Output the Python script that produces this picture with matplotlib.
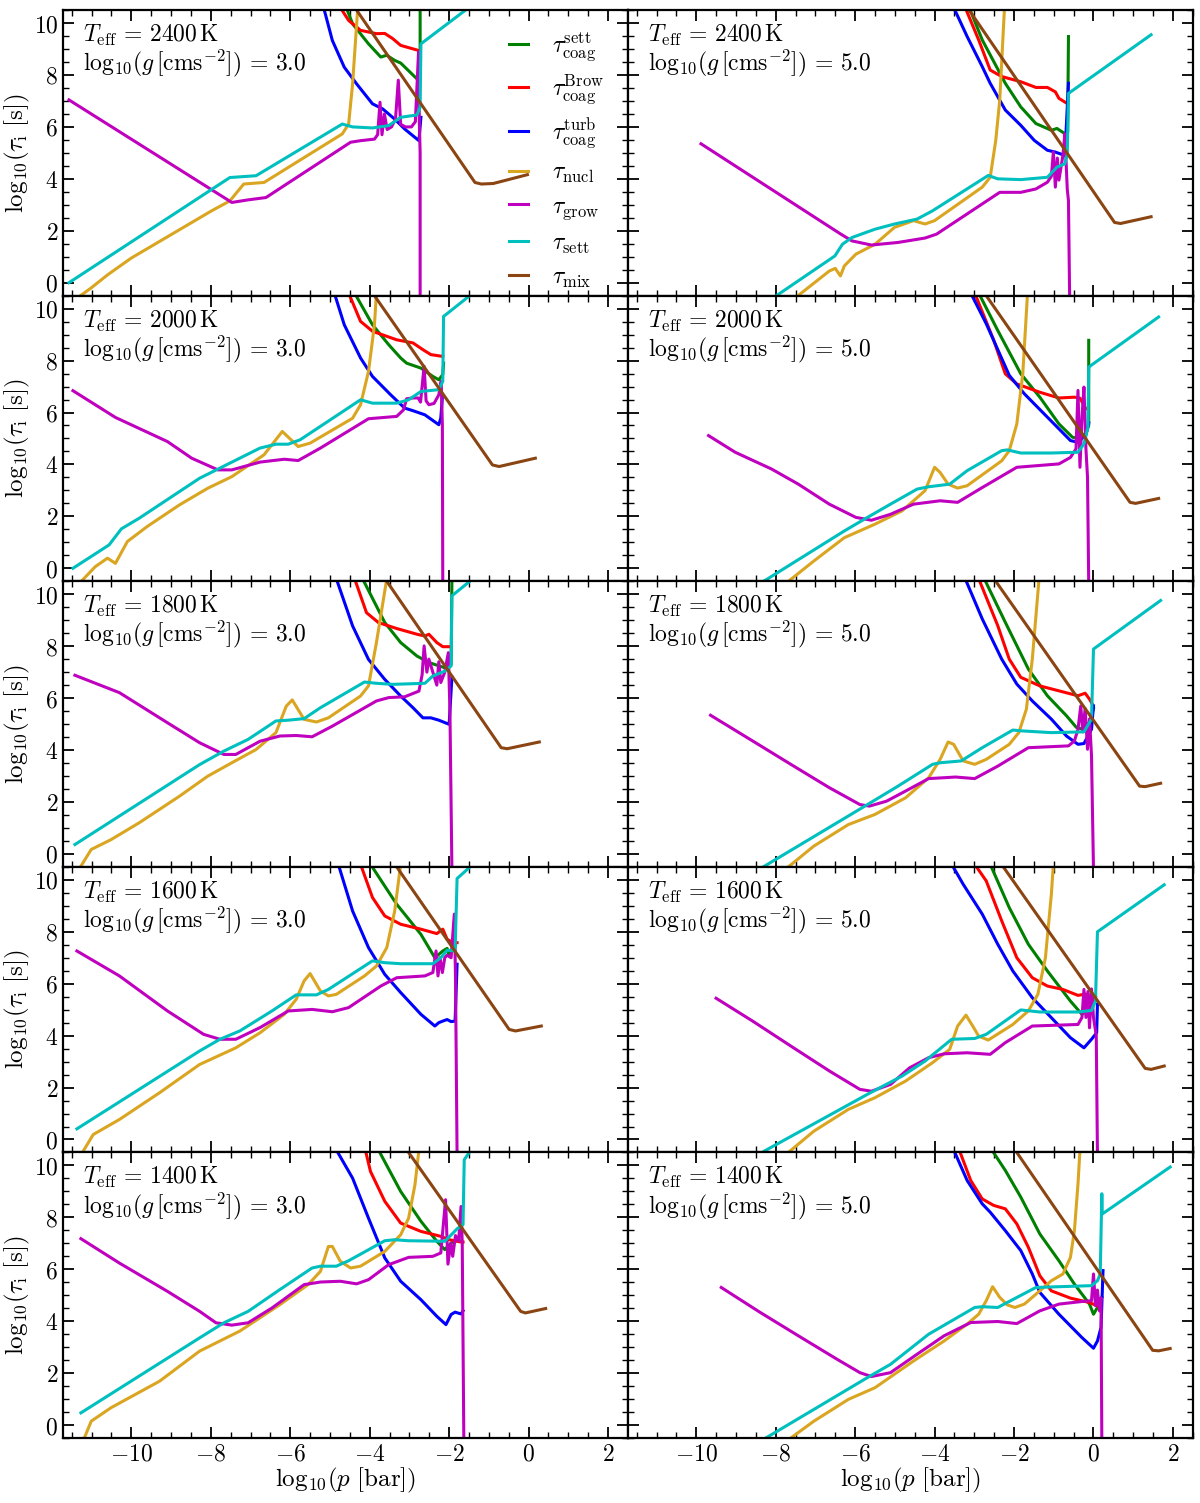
import matplotlib
matplotlib.use("Agg")
import matplotlib.pyplot as plt
from matplotlib.ticker import MultipleLocator, FuncFormatter

plt.rcParams['mathtext.fontset'] = 'cm'
plt.rcParams['font.family'] = ['DejaVu Serif']

# each curve: list of (log10 p [bar], log10 tau [s])
# suffixes: cs = coag sett, cb = coag Brownian, ct = coag turb,
#           nu = nucl, gr = grow, se = sett, mx = mix

# Teff = 2400 K, log g = 3
t2400_g3_cs = [(-4.59, 10.6), (-4.43, 9.97), (-4.03, 9.2), (-3.72, 8.69), (-3.57, 8.76), (-3.37, 8.56),
               (-3.22, 8.46), (-2.81, 7.85), (-2.73, 7.8), (-2.73, 10.6)]
t2400_g3_cb = [(-4.74, 10.6), (-4.53, 10.1), (-4.23, 9.72), (-3.83, 9.59), (-3.62, 9.6), (-3.42, 9.4),
               (-3.22, 9.14), (-2.76, 8.94)]
t2400_g3_ct = [(-5.16, 10.6), (-4.94, 9.33), (-4.64, 8.3), (-4.33, 7.66), (-3.93, 6.89), (-3.67, 6.69),
               (-3.37, 6.3), (-3.12, 5.92), (-2.76, 5.47), (-2.71, 6.37)]
t2400_g3_nu = [(-11.37, -0.6), (-11.01, -0.2), (-10.6, 0.3), (-10.0, 0.95), (-9.0, 1.85), (-8.0, 2.75),
               (-7.52, 3.15), (-7.17, 3.8), (-6.66, 3.86), (-4.69, 5.73), (-4.53, 6.11), (-4.43, 7.66),
               (-4.3, 10.6)]
t2400_g3_gr = [(-11.57, 7.04), (-7.47, 3.09), (-7.06, 3.19), (-6.61, 3.28), (-4.48, 5.41), (-4.23, 5.47),
               (-3.88, 5.53), (-3.80, 5.7), (-3.74, 6.95), (-3.69, 5.7), (-3.63, 6.5), (-3.56, 5.9),
               (-3.45, 6.0), (-3.35, 6.3), (-3.28, 7.8), (-3.22, 6.1), (-3.1, 6.0), (-2.95, 6.0),
               (-2.85, 6.2), (-2.77, 8.9), (-2.75, 6.2), (-2.73, 5.0), (-2.73, -0.6)]
t2400_g3_se = [(-11.57, 0.0), (-7.52, 4.05), (-6.86, 4.12), (-4.69, 6.11), (-4.43, 6.0), (-3.93, 5.96),
               (-3.52, 6.05), (-3.22, 6.37), (-2.81, 6.46), (-2.73, 6.76), (-2.71, 9.2), (-1.5, 10.6)]
t2400_g3_mx = [(-4.33, 10.5), (-1.35, 3.86), (-1.19, 3.8), (-0.89, 3.82), (-0.03, 4.16)]

# Teff = 2400 K, log g = 5
t2400_g5_cs = [(-3.13, 10.6), (-2.8, 9.35), (-2.22, 7.68), (-1.83, 6.77), (-1.45, 6.13), (-1.06, 5.87),
               (-0.92, 5.94), (-0.72, 5.74), (-0.65, 5.8), (-0.63, 9.48)]
t2400_g5_cb = [(-3.23, 10.6), (-2.89, 9.35), (-2.6, 8.19), (-2.31, 7.94), (-1.83, 7.74), (-1.45, 7.52),
               (-1.16, 7.52), (-0.96, 7.35), (-0.87, 7.1), (-0.66, 6.9)]
t2400_g5_ct = [(-3.52, 10.6), (-3.18, 9.48), (-2.8, 8.32), (-2.6, 7.68), (-2.22, 6.65), (-1.83, 6.06),
               (-1.49, 5.48), (-1.16, 5.1), (-0.96, 5.03), (-0.72, 4.9), (-0.63, 7.68)]
t2400_g5_nu = [(-7.52, -0.6), (-6.65, 0.45), (-6.5, 0.55), (-6.37, 0.26), (-6.27, 0.65), (-5.98, 1.1),
               (-5.5, 1.48), (-5.01, 2.13), (-4.53, 2.39), (-4.24, 2.26), (-4.0, 2.39), (-2.8, 3.68),
               (-2.6, 4.06), (-2.46, 5.48), (-2.36, 7.03), (-2.24, 10.6)]
t2400_g5_gr = [(-9.88, 5.35), (-6.36, 1.87), (-6.08, 1.61), (-5.59, 1.45), (-4.92, 1.55), (-4.24, 1.72),
               (-3.95, 1.87), (-2.36, 3.48), (-1.83, 3.48), (-1.45, 3.61), (-1.16, 3.87), (-1.06, 4.1),
               (-1.01, 5.03), (-0.96, 3.68), (-0.91, 4.8), (-0.87, 3.95), (-0.77, 4.9), (-0.72, 5.74),
               (-0.66, 3.6), (-0.63, 3.16), (-0.6, -0.6)]
t2400_g5_se = [(-8.0, -0.52), (-6.51, 1.03), (-6.32, 1.48), (-6.08, 1.74), (-5.5, 2.06), (-5.01, 2.26),
               (-4.44, 2.45), (-4.05, 2.77), (-2.65, 4.13), (-2.41, 4.0), (-1.83, 3.97), (-1.16, 4.06),
               (-0.92, 4.45), (-0.72, 4.58), (-0.66, 4.97), (-0.63, 7.29), (1.45, 9.55)]
t2400_g5_mx = [(-3.13, 10.5), (0.53, 2.32), (0.68, 2.28), (1.45, 2.54)]

# Teff = 2000 K, log g = 3
t2000_g3_cs = [(-4.38, 10.6), (-3.93, 9.38), (-3.52, 8.61), (-3.22, 8.1), (-3.07, 7.9), (-2.71, 7.71),
               (-2.41, 7.39), (-2.26, 7.26), (-2.16, 7.46), (-2.14, 7.9)]
t2000_g3_cb = [(-4.53, 10.6), (-4.23, 9.51), (-3.93, 9.13), (-3.32, 8.8), (-2.91, 8.68), (-2.66, 8.42),
               (-2.46, 8.23), (-2.16, 8.16)]
t2000_g3_ct = [(-4.89, 10.6), (-4.64, 9.38), (-4.23, 8.1), (-3.93, 7.39), (-3.47, 6.68), (-3.12, 6.17),
               (-2.91, 6.07), (-2.61, 5.91), (-2.26, 5.53), (-2.21, 5.78), (-2.17, 6.6)]
t2000_g3_nu = [(-11.32, -0.6), (-10.91, 0.06), (-10.6, 0.39), (-10.4, 0.19), (-10.1, 1.03), (-9.6, 1.61),
               (-8.79, 2.44), (-8.08, 3.08), (-7.47, 3.53), (-6.66, 4.37), (-6.2, 5.27), (-5.8, 4.69),
               (-5.5, 4.82), (-4.43, 5.78), (-4.23, 6.3), (-4.03, 7.58), (-3.88, 9.38), (-3.83, 10.6)]
t2000_g3_gr = [(-11.47, 6.84), (-10.4, 5.81), (-9.09, 4.88), (-8.48, 4.24), (-7.82, 3.79), (-7.47, 3.79),
               (-6.76, 4.09), (-6.15, 4.2), (-5.8, 4.15), (-5.24, 4.63), (-4.03, 5.76), (-3.32, 5.85),
               (-3.15, 6.1), (-3.07, 6.53), (-2.91, 6.56), (-2.78, 6.56), (-2.72, 6.4), (-2.63, 7.78),
               (-2.58, 6.45), (-2.51, 6.3), (-2.38, 6.35), (-2.26, 6.68), (-2.2, 7.2), (-2.17, 5.5),
               (-2.16, -0.6)]
t2000_g3_se = [(-11.47, 0.0), (-10.56, 0.9), (-10.25, 1.52), (-9.8, 1.93), (-8.28, 3.47), (-6.76, 4.63),
               (-6.36, 4.78), (-6.05, 4.78), (-5.75, 4.95), (-4.23, 6.49), (-3.93, 6.36), (-3.32, 6.36),
               (-3.02, 6.49), (-2.71, 6.81), (-2.26, 6.88), (-2.16, 7.2), (-2.14, 9.7), (-1.4, 10.6)]
t2000_g3_mx = [(-3.88, 10.5), (-0.91, 3.98), (-0.74, 3.92), (0.17, 4.24)]

# Teff = 2000 K, log g = 5
t2000_g5_cs = [(-2.89, 10.6), (-2.41, 9.16), (-1.83, 7.49), (-1.35, 6.59), (-0.87, 5.56), (-0.53, 5.05),
               (-0.34, 4.98), (-0.19, 5.2), (-0.12, 5.5), (-0.12, 8.78)]
t2000_g5_cb = [(-2.99, 10.6), (-2.51, 8.78), (-2.22, 7.49), (-1.93, 7.1), (-1.35, 6.78), (-0.87, 6.56),
               (-0.48, 6.59), (-0.34, 6.55), (-0.19, 6.14)]
t2000_g5_ct = [(-3.09, 10.6), (-2.7, 9.42), (-2.12, 7.43), (-1.74, 6.72), (-1.16, 5.82), (-0.58, 4.92),
               (-0.39, 4.85), (-0.19, 5.15), (-0.12, 5.6)]
t2000_g5_nu = [(-7.76, -0.6), (-7.04, 0.28), (-6.27, 1.18), (-5.5, 1.7), (-4.82, 2.21), (-4.24, 2.99),
               (-4.0, 3.89), (-3.86, 3.69), (-3.66, 3.24), (-3.42, 3.09), (-3.18, 3.18), (-2.31, 4.14),
               (-2.12, 4.53), (-1.93, 5.56), (-1.78, 7.49), (-1.66, 10.6)]
t2000_g5_gr = [(-9.69, 5.11), (-9.02, 4.47), (-8.1, 3.82), (-7.43, 3.24), (-6.65, 2.47), (-5.98, 1.96),
               (-5.59, 1.85), (-5.11, 2.08), (-4.53, 2.47), (-3.86, 2.6), (-3.42, 2.54), (-2.8, 3.11),
               (-1.93, 3.89), (-0.87, 4.02), (-0.58, 4.27), (-0.44, 4.6), (-0.39, 6.85), (-0.34, 3.89),
               (-0.29, 5.82), (-0.24, 6.98), (-0.19, 4.6), (-0.15, 3.5), (-0.12, -0.6)]
t2000_g5_se = [(-8.29, -0.49), (-6.27, 1.44), (-5.69, 1.96), (-5.11, 2.47), (-4.44, 3.05), (-4.15, 3.14),
               (-3.62, 3.24), (-3.18, 3.76), (-2.31, 4.53), (-2.17, 4.56), (-1.83, 4.44), (-1.06, 4.44),
               (-0.39, 4.47), (-0.24, 4.79), (-0.14, 5.43), (-0.12, 7.75), (1.64, 9.68)]
t2000_g5_mx = [(-2.7, 10.5), (0.92, 2.54), (1.06, 2.5), (1.64, 2.69)]

# Teff = 1800 K, log g = 3
t1800_g3_cs = [(-4.18, 10.6), (-3.62, 8.91), (-3.22, 8.14), (-2.81, 7.62), (-2.51, 7.37), (-2.11, 7.17),
               (-1.95, 7.3), (-1.93, 10.6)]
t1800_g3_cb = [(-4.38, 10.6), (-4.08, 9.29), (-3.78, 8.91), (-3.32, 8.68), (-2.81, 8.46), (-2.61, 8.39),
               (-2.51, 8.46), (-2.31, 8.14), (-2.16, 7.98), (-1.98, 7.98)]
t1800_g3_ct = [(-4.84, 10.6), (-4.43, 8.78), (-4.03, 7.49), (-3.62, 6.72), (-3.22, 6.08), (-2.91, 5.63),
               (-2.66, 5.24), (-2.46, 5.24), (-2.26, 5.15), (-2.0, 4.99), (-1.93, 6.8)]
t1800_g3_nu = [(-11.32, -0.6), (-11.01, 0.17), (-10.51, 0.55), (-9.8, 1.2), (-8.79, 2.22), (-8.08, 2.99),
               (-7.47, 3.51), (-6.86, 4.02), (-6.36, 4.67), (-6.1, 5.69), (-5.95, 5.93), (-5.65, 5.18),
               (-5.34, 5.08), (-5.04, 5.24), (-4.23, 6.08), (-4.03, 6.47), (-3.83, 8.14), (-3.57, 10.6)]
t1800_g3_gr = [(-11.42, 6.88), (-10.3, 6.21), (-9.09, 5.05), (-8.28, 4.28), (-7.67, 3.83), (-7.37, 3.83),
               (-6.76, 4.34), (-6.26, 4.54), (-5.85, 4.56), (-5.45, 4.51), (-4.94, 4.92), (-3.83, 5.89),
               (-3.52, 6.02), (-3.12, 6.05), (-2.76, 6.27), (-2.68, 6.9), (-2.63, 8.01), (-2.56, 7.0),
               (-2.51, 7.5), (-2.41, 7.0), (-2.31, 6.5), (-2.26, 7.4), (-2.21, 6.6), (-2.11, 7.0),
               (-2.02, 7.75), (-1.98, 5.5), (-1.93, -0.6)]
t1800_g3_se = [(-11.42, 0.36), (-8.28, 3.44), (-7.67, 3.96), (-7.06, 4.41), (-6.36, 5.12), (-6.05, 5.15),
               (-5.65, 5.21), (-5.24, 5.63), (-4.13, 6.62), (-3.83, 6.57), (-3.42, 6.53), (-2.61, 6.57),
               (-2.41, 6.85), (-2.11, 7.04), (-1.95, 7.24), (-1.93, 9.94), (-1.4, 10.6)]
t1800_g3_mx = [(-3.57, 10.5), (-0.69, 4.09), (-0.54, 4.05), (0.27, 4.31)]

# Teff = 1800 K, log g = 5
t1800_g5_cs = [(-2.75, 10.6), (-2.22, 8.92), (-1.64, 7.12), (-1.16, 6.09), (-0.68, 5.32), (-0.43, 4.87),
               (-0.27, 4.8), (-0.1, 5.06), (0.0, 5.6)]
t1800_g5_cb = [(-2.89, 10.6), (-2.41, 8.79), (-2.12, 7.5), (-1.83, 6.8), (-1.35, 6.47), (-0.87, 6.28),
               (-0.39, 6.09), (-0.21, 6.19), (-0.1, 5.96), (-0.03, 5.77)]
t1800_g5_ct = [(-3.23, 10.6), (-2.8, 9.05), (-2.31, 7.5), (-1.93, 6.54), (-1.54, 5.89), (-1.06, 5.19),
               (-0.68, 4.54), (-0.39, 4.22), (-0.24, 4.25), (-0.05, 4.8), (0.0, 5.7)]
t1800_g5_nu = [(-7.76, -0.6), (-7.04, 0.3), (-6.17, 1.13), (-5.5, 1.52), (-4.73, 2.16), (-4.15, 2.93),
               (-3.86, 3.64), (-3.66, 4.31), (-3.52, 4.22), (-3.28, 3.58), (-2.99, 3.45), (-2.7, 3.64),
               (-2.12, 4.22), (-1.88, 4.67), (-1.69, 5.57), (-1.54, 7.5), (-1.37, 10.6)]
t1800_g5_gr = [(-9.64, 5.34), (-8.58, 4.35), (-7.62, 3.45), (-6.65, 2.55), (-5.88, 1.9), (-5.64, 1.84),
               (-5.21, 2.03), (-4.73, 2.42), (-4.15, 2.9), (-3.47, 2.96), (-2.99, 2.9), (-2.41, 3.38),
               (-1.64, 4.09), (-0.63, 4.16), (-0.48, 4.35), (-0.39, 4.8), (-0.32, 5.7), (-0.27, 4.7),
               (-0.21, 5.6), (-0.15, 4.03), (-0.1, 5.2), (-0.05, 3.8), (0.0, -0.6)]
t1800_g5_se = [(-8.29, -0.48), (-5.69, 1.9), (-4.92, 2.61), (-4.05, 3.45), (-3.86, 3.51), (-3.33, 3.58),
               (-2.8, 4.09), (-2.03, 4.77), (-1.83, 4.74), (-1.06, 4.67), (-0.24, 4.7), (-0.05, 5.19),
               (0.0, 7.89), (1.69, 9.76)]
t1800_g5_mx = [(-2.46, 10.5), (1.16, 2.61), (1.3, 2.59), (1.69, 2.72)]

# Teff = 1600 K, log g = 3
t1600_g3_cs = [(-3.98, 10.6), (-3.32, 9.06), (-2.71, 7.9), (-2.36, 7.0), (-2.16, 7.26), (-2.05, 7.36),
               (-2.0, 7.07), (-1.85, 7.45)]
t1600_g3_cb = [(-4.23, 10.6), (-3.93, 9.32), (-3.62, 8.61), (-3.22, 8.29), (-2.71, 8.1), (-2.31, 7.93),
               (-2.16, 8.1), (-2.05, 7.71), (-1.9, 7.58), (-1.8, 7.58)]
t1600_g3_ct = [(-4.79, 10.6), (-4.43, 8.8), (-4.03, 7.39), (-3.62, 6.36), (-3.22, 5.66), (-2.71, 4.82),
               (-2.36, 4.37), (-2.26, 4.5), (-2.16, 4.56), (-2.05, 4.62), (-1.95, 4.54), (-1.85, 4.56),
               (-1.8, 6.75)]
t1600_g3_nu = [(-11.27, -0.6), (-10.96, 0.19), (-10.3, 0.77), (-9.29, 1.8), (-8.28, 2.89), (-7.37, 3.53),
               (-6.76, 4.11), (-6.15, 4.82), (-5.85, 5.4), (-5.65, 6.11), (-5.5, 6.39), (-5.24, 5.72),
               (-5.04, 5.53), (-4.84, 5.59), (-4.13, 6.3), (-3.83, 6.68), (-3.57, 7.39), (-3.37, 8.8),
               (-3.22, 10.6)]
t1600_g3_gr = [(-11.37, 7.26), (-10.3, 6.3), (-9.09, 4.95), (-8.18, 4.05), (-7.77, 3.86), (-7.37, 3.86),
               (-6.76, 4.31), (-6.05, 4.95), (-5.45, 5.01), (-4.94, 4.92), (-4.53, 5.08), (-3.72, 5.91),
               (-3.32, 6.23), (-2.61, 6.3), (-2.41, 6.43), (-2.33, 7.26), (-2.28, 6.3), (-2.23, 7.0),
               (-2.17, 6.43), (-2.11, 7.0), (-2.05, 7.1), (-1.95, 7.0), (-1.87, 8.68), (-1.84, 6.3),
               (-1.8, -0.6)]
t1600_g3_se = [(-11.37, 0.41), (-8.28, 3.41), (-7.77, 3.86), (-7.27, 4.18), (-6.46, 4.95), (-5.85, 5.57),
               (-5.34, 5.57), (-5.04, 5.78), (-3.93, 6.88), (-3.62, 6.81), (-3.22, 6.77), (-2.41, 6.77),
               (-2.21, 7.0), (-2.05, 7.29), (-1.85, 7.26), (-1.8, 10.05), (-1.4, 10.6)]
t1600_g3_mx = [(-3.32, 10.5), (-0.49, 4.24), (-0.33, 4.18), (0.32, 4.37)]

# Teff = 1600 K, log g = 5
t1600_g5_cs = [(-2.6, 10.6), (-2.12, 8.93), (-1.64, 7.52), (-1.16, 6.49), (-0.58, 5.33), (-0.29, 4.82),
               (-0.1, 5.08), (0.05, 5.5)]
t1600_g5_cb = [(-2.99, 10.6), (-2.7, 9.96), (-2.31, 8.42), (-1.93, 7.0), (-1.54, 6.23), (-1.16, 5.91),
               (-0.77, 5.78), (-0.39, 5.55), (-0.2, 5.6), (0.0, 5.3)]
t1600_g5_ct = [(-3.57, 10.6), (-3.28, 9.83), (-2.8, 8.68), (-2.41, 7.52), (-2.03, 6.49), (-1.54, 5.46),
               (-1.06, 4.69), (-0.58, 3.92), (-0.24, 3.53), (-0.05, 3.86), (0.08, 4.11), (0.1, 5.21)]
t1600_g5_nu = [(-7.76, -0.6), (-7.04, 0.32), (-6.17, 1.16), (-5.5, 1.61), (-4.73, 2.25), (-4.05, 2.96),
               (-3.62, 3.47), (-3.42, 4.37), (-3.21, 4.79), (-3.04, 4.37), (-2.89, 3.98), (-2.65, 3.83),
               (-2.03, 4.43), (-1.64, 4.95), (-1.4, 5.59), (-1.21, 7.0), (-1.06, 9.45), (-1.01, 10.6)]
t1600_g5_gr = [(-9.5, 5.44), (-8.58, 4.56), (-7.62, 3.6), (-6.65, 2.64), (-5.88, 1.93), (-5.59, 1.86),
               (-5.11, 2.12), (-4.63, 2.76), (-4.15, 3.15), (-3.76, 3.3), (-3.18, 3.34), (-2.6, 3.28),
               (-2.22, 3.73), (-1.54, 4.37), (-0.39, 4.43), (-0.29, 4.7), (-0.24, 5.78), (-0.19, 4.7),
               (-0.14, 5.7), (-0.1, 4.3), (-0.05, 5.8), (0.0, 4.7), (0.07, 4.0), (0.1, -0.6)]
t1600_g5_se = [(-8.29, -0.45), (-5.69, 1.74), (-4.82, 2.44), (-4.24, 3.02), (-3.57, 3.86), (-2.99, 3.89),
               (-2.7, 4.05), (-1.83, 4.99), (-1.35, 4.91), (-0.39, 4.91), (-0.05, 4.97), (0.05, 5.33),
               (0.1, 8.0), (1.78, 9.81)]
t1600_g5_mx = [(-2.27, 10.5), (1.3, 2.74), (1.45, 2.7), (1.78, 2.83)]

# Teff = 1400 K, log g = 3
t1400_g3_cs = [(-3.78, 10.6), (-3.22, 9.0), (-2.71, 7.85), (-2.31, 7.08), (-2.11, 6.76), (-1.95, 7.01),
               (-1.75, 7.14)]
t1400_g3_cb = [(-4.11, 10.6), (-3.98, 9.77), (-3.62, 8.62), (-3.22, 7.78), (-2.71, 7.46), (-2.21, 7.27),
               (-2.0, 7.14), (-1.7, 7.05), (-1.65, 7.05)]
t1400_g3_ct = [(-4.84, 10.6), (-4.43, 9.51), (-4.03, 7.97), (-3.62, 6.44), (-3.22, 5.54), (-2.71, 4.83),
               (-2.31, 4.19), (-2.08, 3.87), (-1.95, 4.26), (-1.85, 4.35), (-1.7, 4.28), (-1.65, 4.4)]
t1400_g3_nu = [(-11.21, -0.6), (-11.01, 0.15), (-10.51, 0.67), (-9.29, 1.69), (-8.28, 2.85), (-7.27, 3.62),
               (-6.26, 4.64), (-5.55, 5.41), (-5.24, 5.92), (-5.04, 6.88), (-4.94, 6.88), (-4.74, 6.31),
               (-4.48, 6.05), (-4.23, 6.12), (-3.62, 6.69), (-3.22, 7.33), (-3.02, 7.97), (-2.86, 9.26),
               (-2.76, 10.6)]
t1400_g3_gr = [(-11.27, 7.18), (-10.3, 6.24), (-9.09, 5.15), (-8.28, 4.38), (-7.87, 3.94), (-7.47, 3.85),
               (-7.06, 3.94), (-6.46, 4.51), (-5.65, 5.41), (-5.24, 5.51), (-4.74, 5.54), (-4.33, 5.44),
               (-4.03, 5.6), (-3.52, 6.18), (-3.02, 6.46), (-2.41, 6.5), (-2.21, 6.63), (-2.09, 8.68),
               (-2.03, 6.2), (-1.96, 7.0), (-1.91, 6.5), (-1.84, 7.3), (-1.76, 7.1), (-1.7, 8.42),
               (-1.67, 7.0), (-1.63, -0.6)]
t1400_g3_se = [(-11.27, 0.47), (-8.28, 3.36), (-7.67, 3.94), (-7.06, 4.38), (-6.26, 5.22), (-5.45, 6.05),
               (-5.24, 6.12), (-4.84, 6.12), (-4.53, 6.33), (-3.62, 7.1), (-3.37, 7.14), (-3.02, 7.1),
               (-2.11, 7.08), (-1.9, 7.4), (-1.8, 7.56), (-1.65, 7.72), (-1.62, 10.22), (-1.45, 10.6)]
t1400_g3_mx = [(-3.02, 10.5), (-0.2, 4.38), (-0.08, 4.32), (0.43, 4.49)]

# Teff = 1400 K, log g = 5
t1400_g5_cs = [(-2.56, 10.6), (-2.22, 9.81), (-1.83, 8.78), (-1.35, 7.36), (-0.87, 6.33), (-0.48, 5.43),
               (-0.1, 4.66), (0.0, 4.27), (0.1, 4.53), (0.21, 4.92)]
t1400_g5_cb = [(-3.38, 10.6), (-3.09, 9.42), (-2.8, 8.71), (-2.51, 8.46), (-2.22, 8.33), (-1.93, 7.75),
               (-1.64, 6.85), (-1.35, 5.75), (-1.06, 5.17), (-0.58, 4.89), (-0.1, 4.72), (0.19, 4.53)]
t1400_g5_ct = [(-3.52, 10.6), (-3.18, 9.42), (-2.8, 8.52), (-2.6, 8.2), (-2.22, 7.49), (-1.83, 6.72),
               (-1.54, 5.82), (-1.35, 5.11), (-0.87, 4.27), (-0.29, 3.37), (0.0, 2.96), (0.1, 3.24),
               (0.19, 3.76), (0.24, 5.95)]
t1400_g5_nu = [(-7.71, -0.6), (-7.04, 0.15), (-6.17, 0.99), (-5.5, 1.44), (-4.53, 2.47), (-3.76, 3.24),
               (-3.18, 3.89), (-2.89, 4.27), (-2.7, 4.79), (-2.54, 5.33), (-2.36, 4.92), (-2.17, 4.63),
               (-1.98, 4.53), (-1.74, 4.66), (-1.35, 5.17), (-1.06, 5.56), (-0.77, 5.82), (-0.58, 6.46),
               (-0.48, 7.49), (-0.39, 9.29), (-0.34, 10.6)]
t1400_g5_gr = [(-9.37, 5.3), (-8.39, 4.34), (-7.43, 3.44), (-6.46, 2.54), (-5.88, 2.02), (-5.59, 1.87),
               (-5.11, 2.02), (-4.44, 2.73), (-3.76, 3.44), (-3.09, 3.95), (-2.41, 3.99), (-1.93, 3.91),
               (-1.35, 4.4), (-0.87, 4.66), (-0.29, 4.76), (-0.05, 4.79), (0.0, 5.82), (0.05, 4.6),
               (0.1, 5.2), (0.15, 4.4), (0.19, 4.9), (0.21, -0.6)]
t1400_g5_se = [(-8.24, -0.49), (-5.69, 1.83), (-5.11, 2.34), (-4.15, 3.5), (-2.99, 4.53), (-2.8, 4.56),
               (-2.41, 4.53), (-1.45, 5.3), (-0.87, 5.33), (-0.05, 5.37), (0.1, 5.56), (0.17, 5.82),
               (0.21, 8.91), (0.22, 8.13), (1.93, 9.94)]
t1400_g5_mx = [(-1.93, 10.5), (1.49, 2.88), (1.64, 2.86), (1.93, 2.95)]

teffs = [2400, 2000, 1800, 1600, 1400]
loggs = [3.0, 5.0]

keys = ['cs', 'cb', 'ct', 'nu', 'gr', 'se', 'mx']
colors = {'cs': '#008000', 'cb': '#FF0000', 'ct': '#0000FF', 'nu': '#DAA520',
          'gr': '#BF00BF', 'se': '#00BFBF', 'mx': '#8B4513'}
labels = {'cs': r'$\tau_{\rm coag}^{\rm sett}$', 'cb': r'$\tau_{\rm coag}^{\rm Brow}$',
          'ct': r'$\tau_{\rm coag}^{\rm turb}$', 'nu': r'$\tau_{\rm nucl}$',
          'gr': r'$\tau_{\rm grow}$', 'se': r'$\tau_{\rm sett}$', 'mx': r'$\tau_{\rm mix}$'}

fig, axes = plt.subplots(5, 2, figsize=(12, 15.03), dpi=100, sharex=True, sharey=True)
fig.subplots_adjust(left=0.0525, right=0.994, top=0.9933, bottom=0.0432, wspace=0, hspace=0)

fmt = FuncFormatter(lambda v, pos: r'$%d$' % round(v))

for i, teff in enumerate(teffs):
    for j, logg in enumerate(loggs):
        ax = axes[i, j]
        gtag = 'g3' if logg == 3.0 else 'g5'
        for k in keys:
            pts = globals()['t%d_%s_%s' % (teff, gtag, k)]
            xs = [p[0] for p in pts]
            ys = [p[1] for p in pts]
            ax.plot(xs, ys, color=colors[k], lw=2.2, label=labels[k])
        ax.text(0.036, 0.955, r'$T_{\rm eff}\, =\, %d\,{\rm K}$' % teff + '\n' +
                r'${\rm log}_{10}(g\,[{\rm cms}^{-2}])\, =\, %.1f$' % logg,
                transform=ax.transAxes, ha='left', va='top', fontsize=17, linespacing=1.0)
        ax.set_xlim(-11.72, 2.5)
        ax.set_ylim(-0.5, 10.5)
        ax.xaxis.set_major_locator(MultipleLocator(2))
        ax.xaxis.set_minor_locator(MultipleLocator(0.5))
        ax.yaxis.set_major_locator(MultipleLocator(2))
        ax.yaxis.set_minor_locator(MultipleLocator(0.5))
        ax.xaxis.set_major_formatter(fmt)
        ax.yaxis.set_major_formatter(fmt)
        ax.tick_params(which='both', direction='in', top=True, right=True, labelsize=17)
        ax.tick_params(which='major', length=8, width=1.3)
        ax.tick_params(which='minor', length=4, width=1.0)
        for s in ax.spines.values():
            s.set_linewidth(1.6)
        if j == 0:
            ax.set_ylabel(r'${\rm log}_{10}(\tau_{\rm i}\ [{\rm s}])$', fontsize=18, labelpad=1)
        if i == len(teffs) - 1:
            ax.set_xlabel(r'${\rm log}_{10}(p\ [{\rm bar}])$', fontsize=18, labelpad=0)

axes[0, 0].legend(loc='upper left', bbox_to_anchor=(0.79, 0.93), frameon=False, fontsize=17,
                  handlelength=0.8, handletextpad=1.0, labelspacing=0.42,
                  borderpad=0, borderaxespad=0)

fig.savefig('out.png', dpi=100)
